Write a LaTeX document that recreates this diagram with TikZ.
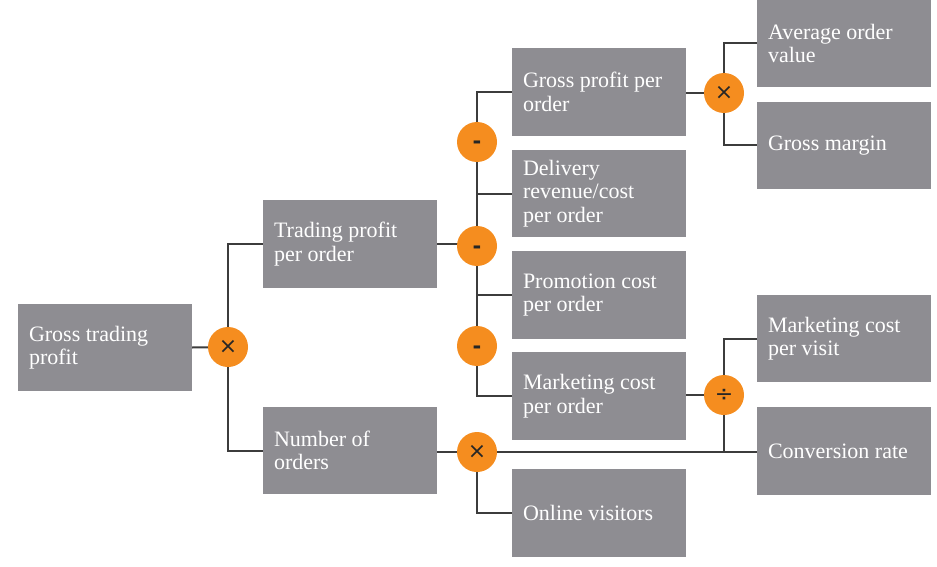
\documentclass[tikz,border=0pt]{standalone}
\usepackage{fontspec}
\setmainfont{Liberation Serif}
\newfontfamily\symfont{DejaVu Sans}
\usetikzlibrary{backgrounds}
\definecolor{boxgrey}{HTML}{8E8D92}
\definecolor{oporange}{HTML}{F58D1F}
\definecolor{linegrey}{HTML}{3C3C3C}
\newcommand{\minussym}{\smash{\raisebox{-7pt}{-}}}
\begin{document}
\begin{tikzpicture}[x=1pt,y=-1pt,
  box/.style={rectangle,fill=boxgrey,text=white,minimum width=174pt,minimum height=87.5pt,
    text width=152pt,inner xsep=11pt,inner ysep=0pt,align=flush left,
    font=\fontsize{22}{23.5}\selectfont},
  op/.style={circle,fill=oporange,minimum size=40pt,inner sep=0pt,text=black!85,
    font=\symfont\fontsize{22}{22}\selectfont},
  minusop/.style={op,font=\symfont\bfseries\fontsize{21}{21}\selectfont},
  conn/.style={draw=linegrey,line width=2pt}]
\useasboundingbox (0,0) rectangle (937,567);
% boxes
\node[box] (gtp)  at (105,347.5) {Gross trading\\profit};
\node[box] (tppo) at (350,244)   {Trading profit\\per order};
\node[box] (noo)  at (350,450.5) {Number of\\orders};
\node[box] (gppo) at (599,92)    {Gross profit per\\order};
\node[box] (drc)  at (599,193.5) {Delivery\\revenue/cost\\per order};
\node[box] (pcpo) at (599,295)   {Promotion cost\\per order};
\node[box] (mcpo) at (599,396)   {Marketing cost\\per order};
\node[box] (ov)   at (599,513)   {Online visitors};
\node[box] (aov)  at (844,43.5)  {Average order\\value};
\node[box] (gm)   at (844,145.5) {Gross margin};
\node[box] (mcpv) at (844,338.5) {Marketing cost\\per visit};
\node[box] (cr)   at (844,451)   {Conversion rate};
% operators
\node[op] (c1) at (228,347) {×};
\node[minusop] (m1) at (477,142) {\minussym};
\node[minusop] (m2) at (477,246) {\minussym};
\node[minusop] (m3) at (477,346) {\minussym};
\node[op] (x2) at (477,452) {×};
\node[op] (x3) at (724,93)  {×};
\node[op] (d1) at (724,395) {÷};
\begin{pgfonlayer}{background}
\fill[white] (0,0) rectangle (937,567);
\draw[conn] (gtp.east) -- (c1);
\draw[conn] (tppo.west) -- (tppo.west -| c1) -- (noo.west -| c1) -- (noo.west);
\draw[conn] (tppo.east) -- (tppo.east -| m2);
\draw[conn] (gppo.west) -- (gppo.west -| m1) -- (mcpo.west -| m1) -- (mcpo.west);
\draw[conn] (drc.west -| m1) -- (drc.west);
\draw[conn] (pcpo.west -| m1) -- (pcpo.west);
\draw[conn] (noo.east |- x2) -- (cr.west |- x2);
\draw[conn] (x2) -- (ov.west -| x2) -- (ov.west);
\draw[conn] (gppo.east |- x3) -- (x3);
\draw[conn] (aov.west) -- (aov.west -| x3) -- (gm.west -| x3) -- (gm.west);
\draw[conn] (mcpo.east |- d1) -- (d1);
\draw[conn] (mcpv.west) -- (mcpv.west -| d1) -- (x2 -| d1);
\end{pgfonlayer}
\end{tikzpicture}
\end{document}
